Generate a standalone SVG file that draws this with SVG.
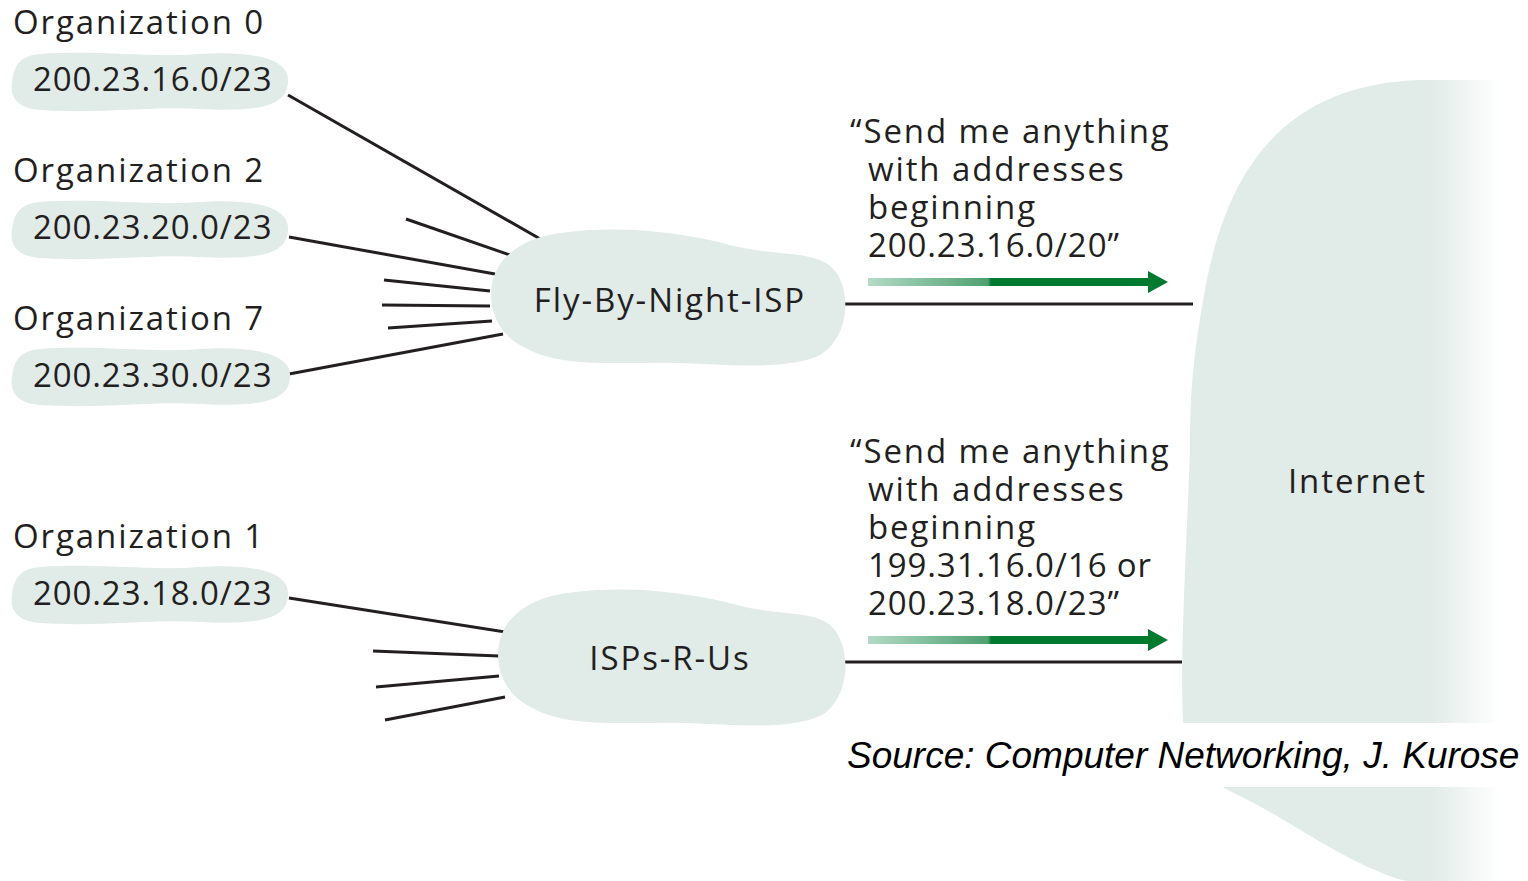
<svg xmlns="http://www.w3.org/2000/svg" width="1528" height="881" viewBox="0 0 1528 881">
<style>
.t{font-family:"Open Sans","Noto Sans",sans-serif;font-size:33px;letter-spacing:1.9px;fill:#231f20}
.d{letter-spacing:0.9px}
.blob{fill:#e1ebe8}
.ln{stroke:#231f20;stroke-width:3;fill:none}
.src{font-family:"Liberation Sans",Arial,sans-serif;font-style:italic;font-size:37px;fill:#000}
</style>
<defs>
<linearGradient id="fade" x1="1430" y1="0" x2="1500" y2="0" gradientUnits="userSpaceOnUse">
<stop offset="0" stop-color="#e1ebe8"/><stop offset="1" stop-color="#e1ebe8" stop-opacity="0"/>
</linearGradient>
<linearGradient id="arr" x1="868" y1="0" x2="1168" y2="0" gradientUnits="userSpaceOnUse">
<stop offset="0" stop-color="#b3dbc6"/><stop offset="0.4" stop-color="#4fa070"/><stop offset="0.41" stop-color="#007a2f"/><stop offset="1" stop-color="#007a2f"/>
</linearGradient>
</defs>
<g id="internet">
<path d="M1500,80 L1420,80 C1300,84 1230,150 1205,290 C1192,360 1190,400 1190,450 C1186,560 1180,650 1183,720 C1188,760 1205,780 1238,795 C1285,818 1320,845 1370,868 C1390,876 1400,881 1410,881 L1500,881 Z" fill="url(#fade)"/>
<rect x="840" y="723" width="688" height="64" fill="#fff"/>
<text class="t" x="1288" y="493" letter-spacing="1.5">Internet</text>
</g>
<g id="connectors">
<line class="ln" x1="288" y1="95" x2="542" y2="240"/>
<line class="ln" x1="406" y1="219" x2="510" y2="255"/>
<line class="ln" x1="289" y1="237" x2="495" y2="274"/>
<line class="ln" x1="384" y1="280" x2="490" y2="291"/>
<line class="ln" x1="382" y1="305" x2="490" y2="306"/>
<line class="ln" x1="388" y1="328" x2="492" y2="321"/>
<line class="ln" x1="289" y1="374" x2="503" y2="334"/>
<line class="ln" x1="289" y1="598" x2="511" y2="633"/>
<line class="ln" x1="373" y1="651" x2="499" y2="656"/>
<line class="ln" x1="376" y1="687" x2="499" y2="676"/>
<line class="ln" x1="385" y1="720" x2="505" y2="697"/>
<line class="ln" x1="843" y1="304" x2="1193" y2="304"/>
<line class="ln" x1="843" y1="662" x2="1182" y2="662"/>
<g id="arrow1"><rect x="868" y="278" width="282" height="8" fill="url(#arr)"/><polygon points="1148,271 1168,282 1148,293" fill="#007a2f"/></g>
<g id="arrow2"><rect x="868" y="636" width="282" height="8" fill="url(#arr)"/><polygon points="1148,629 1168,640 1148,651" fill="#007a2f"/></g>
</g>
<g id="org0">
<text class="t" x="13" y="34">Organization 0</text>
<path class="blob" d="M40,54 C100,50 150,58 200,54 C262,50 290,62 288,82 C287,106 260,112 200,109 C150,106 100,114 40,110 C15,108 10,95 12,82 C14,65 20,56 40,54 Z"/>
<text class="t d" x="33" y="91">200.23.16.0/23</text>
</g>
<g id="org2">
<text class="t" x="13" y="182">Organization 2</text>
<path class="blob" d="M40,202 C100,198 150,206 200,202 C262,198 290,210 288,230 C287,254 260,260 200,257 C150,254 100,262 40,258 C15,256 10,243 12,230 C14,213 20,204 40,202 Z"/>
<text class="t d" x="33" y="239">200.23.20.0/23</text>
</g>
<g id="org7">
<text class="t" x="13" y="330">Organization 7</text>
<path class="blob" d="M40,349 C100,345 150,353 200,349 C262,345 292,357 290,377 C289,401 262,407 200,404 C150,401 100,409 40,405 C15,403 10,390 12,377 C14,360 20,351 40,349 Z"/>
<text class="t d" x="33" y="387">200.23.30.0/23</text>
</g>
<g id="org1">
<text class="t" x="13" y="548">Organization 1</text>
<path class="blob" d="M40,567 C100,563 150,571 200,567 C262,563 290,575 288,595 C287,619 260,625 200,622 C150,619 100,627 40,623 C15,621 10,608 12,595 C14,578 20,569 40,567 Z"/>
<text class="t d" x="33" y="605">200.23.18.0/23</text>
</g>
<g id="flybynight">
<path class="blob" d="M560,233 C620,225 680,232 730,245 C780,258 822,248 838,275 C852,300 846,340 820,355 C790,370 730,365 680,363 C620,361 560,370 520,345 C485,325 484,280 505,258 C520,242 540,236 560,233 Z"/>
<text class="t" x="670" y="312" text-anchor="middle" letter-spacing="1.5">Fly-By-Night-ISP</text>
</g>
<g id="ispsrus">
<path class="blob" d="M567,593 C627,585 687,592 737,605 C787,618 824,608 838,635 C852,660 846,700 822,715 C792,730 737,725 687,723 C627,721 567,730 527,705 C492,685 491,640 512,618 C527,602 547,596 567,593 Z"/>
<text class="t" x="670" y="670" text-anchor="middle" letter-spacing="1.5">ISPs-R-Us</text>
</g>
<g id="msg1">
<text class="t" x="850" y="143">“Send me anything</text>
<text class="t" x="868" y="181">with addresses</text>
<text class="t" x="868" y="219">beginning</text>
<text class="t d" x="868" y="257">200.23.16.0/20”</text>
</g>
<g id="msg2">
<text class="t" x="850" y="463">“Send me anything</text>
<text class="t" x="868" y="501">with addresses</text>
<text class="t" x="868" y="539">beginning</text>
<text class="t d" x="868" y="577">199.31.16.0/16 or</text>
<text class="t d" x="868" y="615">200.23.18.0/23”</text>
</g>
<text class="src" x="847" y="768">Source: Computer Networking, J. Kurose</text>
</svg>
